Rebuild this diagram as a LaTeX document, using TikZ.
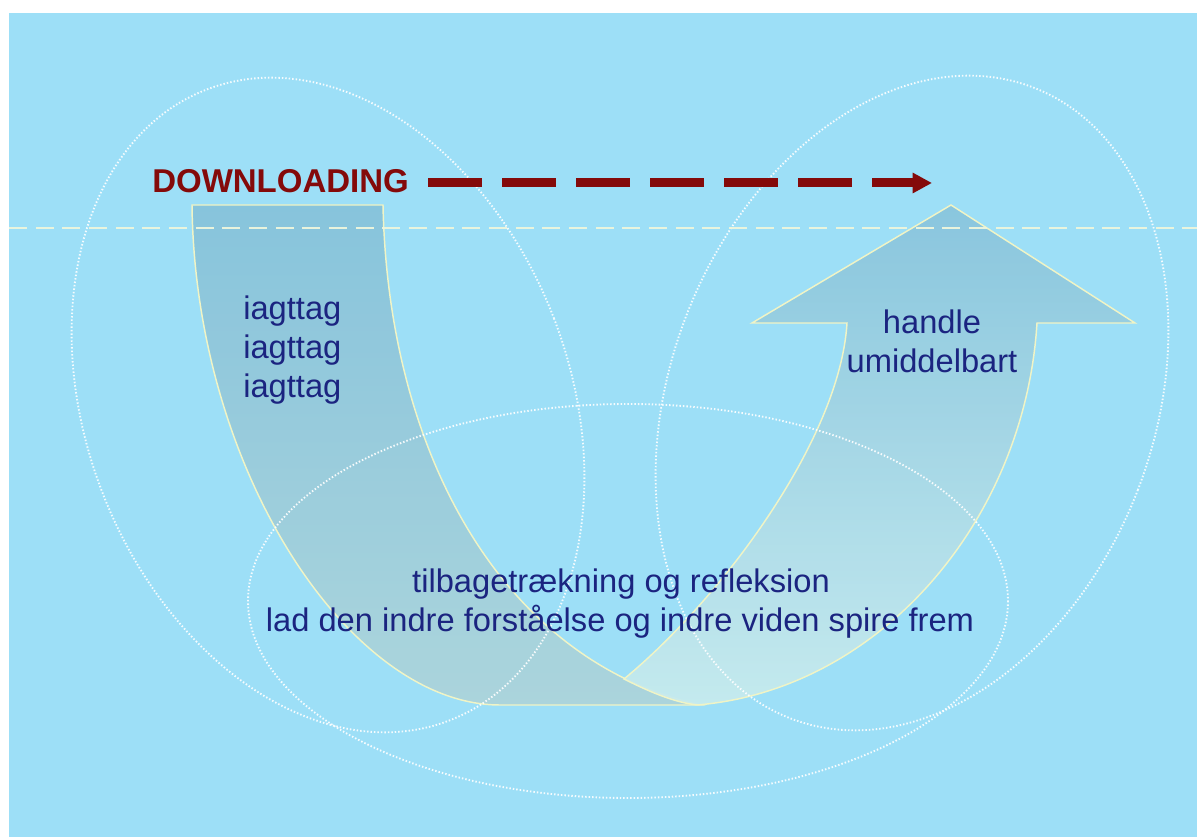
\documentclass[tikz,border=0pt]{standalone}
\usepackage{fontspec}
\setmainfont{Liberation Sans}
\usetikzlibrary{arrows.meta}
\definecolor{bg}{HTML}{9DDFF7}
\definecolor{navy}{HTML}{1B2480}
\definecolor{dred}{HTML}{840A0A}
\definecolor{bandedge}{HTML}{F0F4C6}
\definecolor{hline}{HTML}{EEF6DC}
\definecolor{lbtop}{HTML}{86C2DA}
\definecolor{lbbot}{HTML}{ADD4DA}
\definecolor{rbtop}{HTML}{88C4DC}
\definecolor{rbbot}{HTML}{C8EBEE}
\begin{document}
\begin{tikzpicture}[x=0.75pt,y=-0.75pt,
  ring/.style={white, line width=1.4pt, dash pattern=on 1.1pt off 1.5pt, opacity=0.9},
  band/.style={draw=bandedge, line width=1.1pt, fill opacity=0.92},
  lbl/.style={text=navy, font=\fontsize{24.5}{29.25}\selectfont, inner sep=0pt, anchor=base},
]
\useasboundingbox (0,0) rectangle (1197,837);
\fill[white] (0,0) rectangle (1197,837);
\fill[bg] (9,13) rectangle (1197,837);

% left band (descending)
\path[band, top color=lbtop, bottom color=lbbot]
  (192,205) -- (383,205)
  .. controls (388,450) and (500,660) .. (700,705)
  -- (500,705)
  .. controls (350,705) and (195,470) .. (192,205)
  -- cycle;

% right band (ascending, with arrow head)
\path[band, top color=rbtop, bottom color=rbbot]
  (624,679)
  .. controls (720,600) and (840,440) .. (847,323)
  -- (752,323) -- (951,205) -- (1135,323) -- (1037,323)
  .. controls (1025,520) and (880,690) .. (697,705)
  .. controls (672,702) and (646,690) .. (624,679)
  -- cycle;

% dotted ellipses
\draw[ring, rotate around={21:(328,405)}] (328,405) ellipse [x radius=242, y radius=338];
\draw[ring, rotate around={-21:(912,403)}] (912,403) ellipse [x radius=242, y radius=338];
\draw[ring] (628,601) ellipse [x radius=380, y radius=197];

% dashed horizon
\draw[hline, line width=1.6pt, dash pattern=on 13.5pt off 6.5pt, opacity=0.95] (9,228) -- (1197,228);

% texts
\node[font=\bfseries\fontsize{24.75}{29}\selectfont, text=dred, inner sep=0pt, anchor=base west] (dl) at (152,193) {DOWNLOADING};
\coordinate (dls) at (428,183);
\coordinate (dle) at (932,183);
\draw[dred, line width=6.75pt, dash pattern=on 40.5pt off 15pt, -{Triangle[length=14.5pt,width=14.5pt]}] (dls) -- (dle);

\node[lbl, anchor=base west] (i1) at (243,320) {iagttag};
\node[lbl, anchor=base west] (i2) at (243,359) {iagttag};
\node[lbl, anchor=base west] (i3) at (243,398) {iagttag};
\node[lbl] (h1) at (932,334) {handle};
\node[lbl] (h2) at (932,373) {umiddelbart};
\node[lbl] (t1) at (621,593) {tilbagetrækning og refleksion};
\node[lbl] (t2) at (620,632) {lad den indre forståelse og indre viden spire frem};
\end{tikzpicture}
\end{document}
